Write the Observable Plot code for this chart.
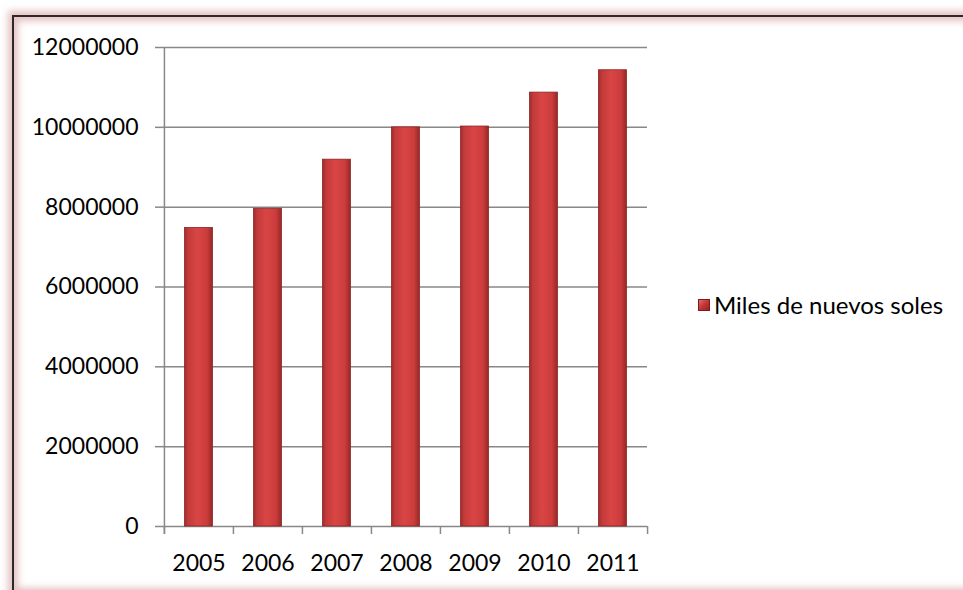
<!DOCTYPE html>
<html>
<head>
<meta charset="utf-8">
<script src="https://cdn.jsdelivr.net/npm/d3@7"></script>
<script src="https://cdn.jsdelivr.net/npm/@observablehq/plot@0.6"></script>
<style>
html, body { margin: 0; padding: 0; background: #fff; }
#wrap { position: relative; width: 963px; height: 590px; overflow: hidden; font-family: Lato, "Open Sans", sans-serif; }
#frame { position: absolute; left: 12px; top: 15px; width: 1000px; height: 575px; border: 2px solid #2a2a2a;
  box-shadow: 0 0 7px 4px rgba(205,140,140,0.55), inset 0 0 7px 4px rgba(205,140,140,0.55); }
#chart { position: absolute; left: 0; top: 0; }
#legend { position: absolute; left: 698px; top: 290px; display: flex; align-items: center; font-size: 24px; color: #000; white-space: nowrap; }
#legend .sw { width: 10px; height: 10px; margin-right: 4px; background: linear-gradient(135deg, #e86a6a, #c23535 50%, #9a2424); border: 1px solid #7a1c1c; }
</style>
</head>
<body>
<div id="wrap"><div id="frame"></div><div id="chart"></div><div id="legend"></div></div>
<script>
const years = ["2005", "2006", "2007", "2008", "2009", "2010", "2011"];
const values = [7480000, 7960000, 9190000, 10000000, 10020000, 10870000, 11430000];
const yTicks = [0, 2000000, 4000000, 6000000, 8000000, 10000000, 12000000];
const seriesName = "Miles de nuevos soles";

const data = years.map((y, i) => ({year: y, value: values[i]}));
const W = 963, H = 590, mL = 163, mR = 316, mT = 47, mB = 64;
const bw = (W - mL - mR) / years.length;
const tickLen = 200000;
const yMax = yTicks[yTicks.length - 1];

const plot = Plot.plot({
  width: W, height: H,
  marginLeft: mL, marginRight: mR, marginTop: mT, marginBottom: mB,
  style: {fontFamily: "Lato, 'Open Sans', sans-serif", fontSize: "23px", color: "#000", background: "transparent", overflow: "visible"},
  x: {domain: years, padding: 0, tickSize: 0, tickPadding: 28, label: null},
  y: {domain: [0, yMax], ticks: yTicks, tickSize: 8, tickPadding: 17, tickFormat: d3.format("d"), label: null},
  marks: [
    Plot.ruleY(yTicks, {stroke: "#888", strokeWidth: 1.5}),
    Plot.ruleX([years[0]], {dx: -bw / 2, y1: yMax, y2: -tickLen, stroke: "#888", strokeWidth: 1.5}),
    Plot.ruleX(years, {dx: -bw / 2, y1: 0, y2: -tickLen, stroke: "#888", strokeWidth: 1.5}),
    Plot.ruleX([years[years.length - 1]], {dx: bw / 2, y1: 0, y2: -tickLen, stroke: "#888", strokeWidth: 1.5}),
    Plot.barY(data, {x: "year", y: "value", fill: "url(#barGrad)", stroke: "#8a2626", strokeWidth: 0.8, insetLeft: 20.5, insetRight: 20.5})
  ]
});

const svg = d3.select(plot);
const defs = svg.insert("defs", ":first-child");
const grad = defs.append("linearGradient").attr("id", "barGrad").attr("x1", 0).attr("x2", 1).attr("y1", 0).attr("y2", 0);
[["0%", "#9e2b2b"], ["12%", "#c23a3a"], ["45%", "#d94545"], ["80%", "#cc3c3c"], ["100%", "#962828"]]
  .forEach(([o, c]) => grad.append("stop").attr("offset", o).attr("stop-color", c));
svg.selectAll('[aria-label="y-axis tick"]').attr("stroke", "#888").attr("stroke-width", 1.5);
svg.selectAll('[aria-label="y-axis"] .tick line').attr("stroke", "#888");

document.getElementById("chart").appendChild(plot);
const lg = document.getElementById("legend");
lg.innerHTML = '<span class="sw"></span><span></span>';
lg.lastChild.textContent = seriesName;
</script>
</body>
</html>
